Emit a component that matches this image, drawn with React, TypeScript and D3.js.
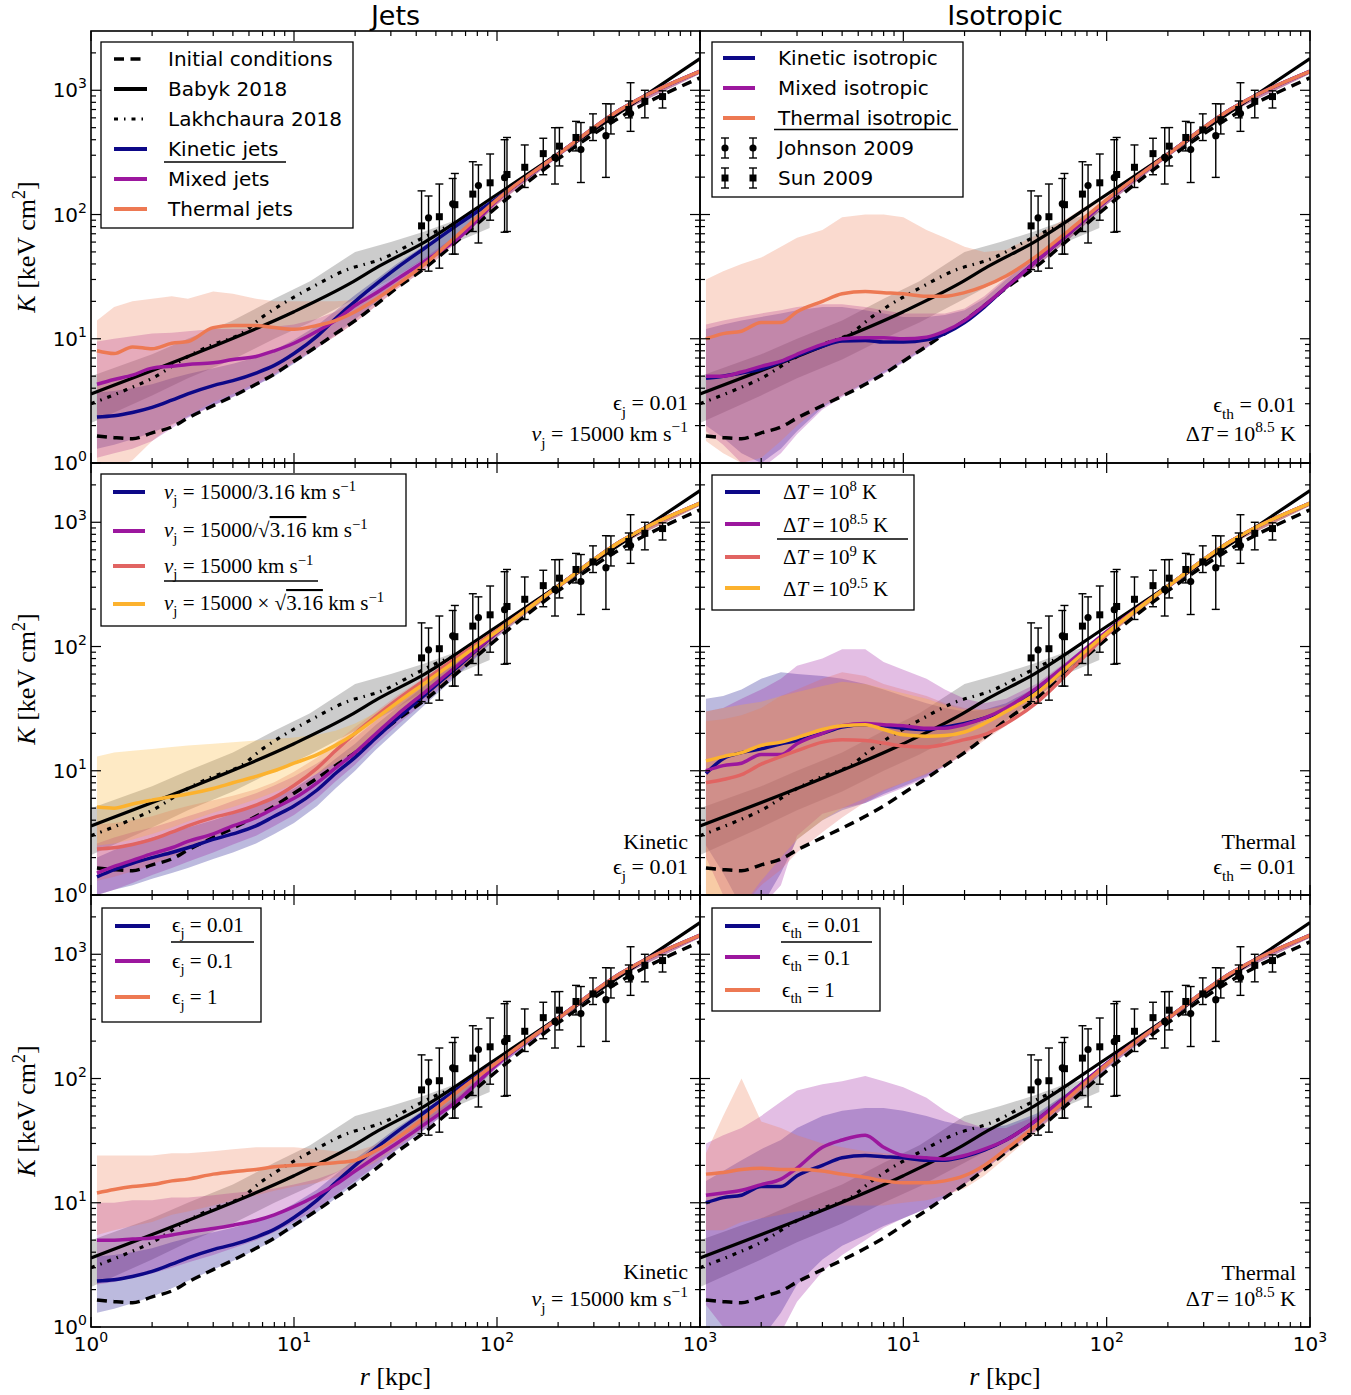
import React from "react";
import * as d3 from "d3";

const SERIF = "'Liberation Serif', 'DejaVu Serif', serif";
const SANS = "'DejaVu Sans', sans-serif";

const C_KIN = "#0d0887";
const C_MIX = "#9c179e";
const C_THM = "#ed7953";
const C_RED = "#e16462";
const C_YEL = "#fcb22e";

// radii (kpc) where the simulated profiles were read off
const R_IN = [1.07, 1.3, 1.6, 2, 2.5, 3, 4, 5, 6.5, 8, 10, 13, 16, 20, 25, 32, 45, 65, 100];
const R_TAIL = [200, 400, 1000];
const LINE_TAIL = [305, 690, 1420];
const LO_TAIL = [290, 660, 1360];
const HI_TAIL = [320, 720, 1480];

// observations / reference profiles
const IC_R = [1.07, 1.3, 1.6, 2, 2.5, 3, 4, 5, 6.5, 8, 10, 13, 16, 20, 25, 32, 45, 65, 100, 200, 400, 1000];
const IC_K = [1.65, 1.6, 1.57, 1.75, 1.95, 2.3, 2.9, 3.45, 4.3, 5.2, 6.6, 8.7, 11, 14, 18.5, 25.5, 38, 63, 115, 280, 600, 1260];
const BABYK_R = [1, 3, 10, 19, 26, 44, 100, 300, 1000];
const BABYK_K = [3.6, 7.2, 16.5, 28, 38, 60, 145, 480, 1800];
const LAK_R = [1, 1.5, 2, 3, 4, 5.5, 7, 8.5, 12, 17.5, 28, 40, 50, 65];
const LAK_K = [3.0, 3.9, 4.8, 7.2, 9.0, 11, 15, 18.5, 25.5, 35, 45, 61, 73, 86];
const GREY_R = [1, 2, 3, 5, 8, 12, 20, 30, 44, 60, 92];
const GREY_LO = [2.1, 3.5, 4.8, 6.8, 10, 13.5, 21, 30, 44, 58, 78];
const GREY_HI = [5.0, 7.5, 10, 14, 21, 29, 50, 60, 73, 88, 106];

const SUN_R = [42.5, 52, 62, 76, 92.5, 112, 137, 169, 203, 245, 297, 364, 446, 535, 654];
const SUN_K = [81, 96, 120, 146, 180, 210, 240, 309, 355, 417, 480, 580, 700, 815, 890];
const SUN_LO = [36, 37, 48, 73, 90, 73, 165, 209, 246, 325, 394, 445, 600, 600, 720];
const SUN_HI = [155, 176, 214, 266, 307, 417, 363, 411, 501, 562, 646, 777, 820, 1000, 990];
const JOH_R = [46, 60.5, 81, 109, 193, 259, 344, 455];
const JOH_K = [94, 122, 171, 198, 288, 333, 431, 650];
const JOH_LO = [35, 48, 59, 72, 176, 181, 199, 467];
const JOH_HI = [141, 195, 251, 400, 500, 550, 780, 1150];

// jets (kinetic eps=0.01, v=15000 is shared by three panels)
const KIN_JET = [2.35, 2.4, 2.55, 2.8, 3.2, 3.6, 4.2, 4.6, 5.3, 6.1, 7.6, 10.5, 14.5, 20, 27, 37, 55, 84, 135];
const KIN_JET_LO = [1.3, 1.4, 1.55, 1.75, 2.05, 2.35, 2.9, 3.4, 4.2, 5.0, 6.3, 8.4, 10.8, 14.3, 19.3, 26.5, 40, 64, 122];
const KIN_JET_HI = [3.7, 3.8, 4.0, 4.3, 4.8, 5.2, 5.8, 6.3, 7.1, 8.1, 9.8, 12.8, 16.8, 22.5, 29.5, 40, 58, 88, 140];
const MIX_JET = [4.3, 4.7, 5.1, 5.8, 6.0, 6.2, 6.4, 6.8, 7.2, 8.0, 9.2, 11.5, 14, 18.5, 23, 30, 43, 65, 130];
const MIX_JET_LO = [1.1, 1.2, 1.3, 1.5, 1.9, 2.3, 2.9, 3.4, 4.2, 5.1, 6.4, 8.5, 10.5, 13.5, 18, 25, 37, 62, 120];
const MIX_JET_HI = [9.5, 10, 10.5, 11, 11.2, 11.5, 12, 12, 12, 12.5, 13, 14.5, 16.5, 20, 25, 32, 46, 70, 138];
const THM_JET = [8.0, 7.6, 8.6, 8.3, 9.2, 9.5, 12.3, 12.8, 12.8, 12.3, 11.9, 12.8, 14, 16.5, 20.5, 27, 41, 70, 132];
const THM_JET_LO = [0.9, 0.9, 1.05, 1.5, 2.0, 2.4, 3.1, 3.6, 4.4, 5.2, 6.5, 8.5, 10.5, 13.5, 18, 25, 37, 62, 120];
const THM_JET_HI = [14, 18, 20, 21, 22, 21, 24, 23, 21, 20, 20, 20, 20, 20.5, 23, 29, 43, 73, 140];

// isotropic (thermal eps=0.01, dT=10^8.5 is shared by three panels)
const KIN_ISO = [4.8, 5.0, 5.3, 5.7, 6.5, 7.3, 8.7, 9.6, 9.7, 9.4, 9.4, 9.8, 11, 13.5, 18, 26, 42, 70, 130];
const KIN_ISO_LO = [2.0, 1.6, 1.2, 1.0, 1.3, 1.8, 2.8, 3.5, 4.4, 5.3, 6.5, 8.5, 10.8, 13.8, 18, 25, 38, 63, 120];
const KIN_ISO_HI = [12, 13, 14, 15, 16, 17, 18, 18, 17, 16, 15, 15, 15.5, 17, 21, 30, 46, 74, 135];
const MIX_ISO = [5.0, 5.0, 5.4, 6.0, 6.6, 7.5, 9.0, 10.0, 10.2, 10.2, 10.0, 10.3, 11.5, 14, 18.5, 26, 42, 70, 130];
const MIX_ISO_LO = [1.8, 1.4, 1.0, 0.9, 1.2, 1.7, 2.7, 3.4, 4.3, 5.2, 6.4, 8.4, 10.7, 13.7, 18, 25, 38, 63, 120];
const MIX_ISO_HI = [13, 14, 15, 16, 17, 18, 19, 19, 18, 17, 16, 16, 16, 17.5, 22, 31, 47, 75, 136];
const THM_ISO = [10, 11, 11.5, 13.5, 13.5, 16.5, 20, 23, 24, 23.5, 23, 22, 22, 23.5, 26.5, 32, 46, 74, 132];
const THM_ISO_LO = [1.5, 1.2, 1.0, 1.1, 1.5, 2.0, 2.9, 3.5, 4.5, 5.5, 6.7, 8.7, 11, 14, 18.5, 25, 38, 63, 120];
const THM_ISO_HI = [30, 35, 40, 45, 55, 65, 75, 95, 100, 100, 95, 75, 65, 55, 50, 52, 68, 95, 150];

// jet velocity runs
const V_316 = [1.4, 1.6, 1.8, 2.0, 2.2, 2.4, 2.8, 3.1, 3.6, 4.3, 5.2, 7.0, 9.5, 12.8, 18, 26, 42, 70, 130];
const V_316_LO = [1.0, 1.1, 1.2, 1.35, 1.5, 1.65, 1.95, 2.2, 2.6, 3.1, 3.8, 5.2, 7.2, 10, 14.5, 21, 35, 60, 118];
const V_316_HI = [2.0, 2.3, 2.6, 2.9, 3.2, 3.5, 4.0, 4.5, 5.2, 6.0, 7.2, 9.5, 12.5, 16.5, 23, 32, 50, 80, 138];
const V_SQ = [1.5, 1.7, 1.9, 2.15, 2.4, 2.7, 3.1, 3.6, 4.2, 5.0, 6.0, 8.0, 10.5, 14, 19.5, 28, 44, 72, 130];
const V_SQ_LO = [1.0, 1.1, 1.25, 1.45, 1.65, 1.85, 2.2, 2.55, 3.0, 3.6, 4.4, 6.0, 8.2, 11.2, 16, 23, 37, 62, 120];
const V_SQ_HI = [2.6, 2.9, 3.2, 3.5, 3.9, 4.3, 5.0, 5.7, 6.6, 7.6, 9.0, 11.5, 14.5, 18.5, 25, 34, 52, 82, 140];
const V_X = [5.1, 5.0, 5.4, 5.8, 6.2, 6.5, 7.2, 8.0, 9.0, 10, 11.5, 13.5, 16, 20, 26, 35, 52, 80, 132];
const V_X_LO = [2.5, 2.6, 2.8, 3.1, 3.5, 3.9, 4.6, 5.1, 5.9, 6.7, 7.8, 9.5, 11.5, 14.5, 19, 26, 40, 65, 122];
const V_X_HI = [13, 14, 14.5, 15, 15.5, 16, 16.5, 17, 17.5, 18, 18.5, 19.5, 21, 24, 29, 38, 56, 85, 140];

// heating temperature runs
const DT8 = [9.5, 12.5, 14, 15, 16.5, 17.5, 20, 22.5, 23.5, 23, 22, 21.5, 22.5, 24, 26.5, 31, 43, 70, 130];
const DT8_LO = [2.5, 1.5, 0.8, 0.8, 1.5, 2.8, 4.0, 4.8, 5.5, 6.5, 7.5, 9.0, 11, 14, 18.5, 25, 38, 63, 120];
const DT8_HI = [38, 40, 45, 55, 62, 60, 58, 55, 50, 45, 40, 35, 32, 30, 31, 35, 47, 75, 135];
const DT85_LO = [2.0, 1.0, 0.8, 0.8, 1.2, 3.0, 4.5, 5.0, 5.5, 6.3, 7.3, 8.8, 10.8, 13.8, 18.2, 25, 38, 63, 120];
const DT85_HI = [30, 32, 38, 45, 55, 70, 80, 95, 95, 75, 65, 55, 45, 38, 35, 38, 50, 78, 138];
const DT9 = [8.0, 8.5, 9.3, 11.3, 13, 14.5, 17, 17.8, 17.5, 16.7, 15.8, 15.5, 16.3, 17.8, 19.5, 24, 35, 62, 125];
const DT9_LO = [0.7, 0.7, 0.8, 1.2, 1.6, 2.2, 3.2, 4.2, 5.6, 6.8, 8, 9.3, 11, 13.5, 17.5, 23, 35, 60, 118];
const DT9_HI = [25, 26, 28, 32, 40, 45, 55, 62, 58, 50, 45, 40, 35, 32, 31, 34, 45, 72, 132];
const DT95 = [12, 13, 14, 16, 17, 18.5, 21.5, 23, 23.5, 21.5, 19.5, 19, 19.2, 20.5, 24, 30, 42, 70, 128];
const DT95_LO = [0.7, 0.7, 0.8, 1.3, 2.0, 2.8, 4.0, 5.0, 6.0, 7.0, 8.0, 9.5, 11, 14, 18, 24, 37, 62, 120];
const DT95_HI = [30, 32, 34, 36, 40, 43, 48, 52, 50, 46, 42, 38, 34, 31, 31, 33, 44, 72, 132];

// jet efficiency runs
const EJ01 = [5.0, 5.0, 5.1, 5.2, 5.5, 5.8, 6.2, 6.6, 7.2, 8.0, 9.3, 11.5, 14, 18, 23, 30, 44, 68, 130];
const EJ01_LO = [2.2, 2.3, 2.5, 2.7, 3.0, 3.3, 3.8, 4.3, 5.0, 5.8, 7.0, 9.0, 11.5, 15, 19.5, 27, 40, 64, 122];
const EJ01_HI = [10, 10, 10.5, 10.5, 11, 11, 11.5, 12, 12.5, 13, 14, 15.5, 17.5, 21, 26, 33, 48, 73, 136];
const EJ1 = [12, 12.8, 13.5, 14, 15, 15.5, 17, 17.8, 18.5, 19.5, 20, 20.5, 21, 22, 26, 33, 50, 80, 135];
const EJ1_LO = [5.5, 6, 6.5, 7, 8, 8.5, 9.5, 10.5, 11.5, 12.5, 13.5, 14.5, 16, 17.5, 21, 28, 42, 70, 128];
const EJ1_HI = [24, 24, 24, 24, 25, 25, 26, 27, 28, 28, 28, 27, 26, 26, 29, 36, 54, 84, 140];

// thermal efficiency runs
const ETH001_LO = [0.7, 0.7, 0.7, 0.8, 1.3, 2.2, 3.5, 4.5, 5.5, 6.5, 7.5, 9, 11, 14, 18.5, 25, 38, 63, 120];
const ETH001_HI = [15, 18, 22, 27, 32, 40, 50, 55, 58, 58, 55, 50, 45, 42, 40, 42, 52, 78, 136];
const ETH01 = [11.5, 12, 12.6, 14, 15.5, 19, 28, 32, 35, 28, 24, 23, 22.5, 24, 27, 32, 46, 74, 132];
const ETH01_LO = [1.5, 1.0, 0.8, 0.8, 0.9, 1.6, 2.8, 3.8, 5.0, 6.3, 7.5, 9, 11, 14, 18.5, 25, 38, 63, 120];
const ETH01_HI = [30, 35, 40, 50, 65, 80, 90, 95, 105, 95, 85, 70, 55, 45, 40, 40, 50, 78, 138];
const ETH1 = [17, 17.5, 18.5, 19, 18.5, 18.5, 18, 17, 16, 15, 14.5, 14.5, 15, 16.5, 20, 27, 42, 70, 130];
const ETH1_LO = [6, 6, 7, 7.5, 8, 8.5, 9, 9.5, 9.5, 9.5, 10, 10.5, 11.5, 13, 16.5, 23, 37, 63, 122];
const ETH1_HI = [25, 50, 100, 45, 40, 35, 30, 28, 26, 25, 24, 23, 23, 24, 27, 33, 48, 75, 135];

const R_ALL = R_IN.concat(R_TAIL);

type Run = { color: string; k: number[]; lo: number[]; hi: number[] };
const run = (color: string, k: number[], lo: number[], hi: number[]): Run => ({
  color,
  k: k.concat(LINE_TAIL),
  lo: lo.concat(LO_TAIL),
  hi: hi.concat(HI_TAIL),
});

const PANELS: { col: number; row: number; runs: Run[] }[] = [
  { col: 0, row: 0, runs: [run(C_KIN, KIN_JET, KIN_JET_LO, KIN_JET_HI), run(C_MIX, MIX_JET, MIX_JET_LO, MIX_JET_HI), run(C_THM, THM_JET, THM_JET_LO, THM_JET_HI)] },
  { col: 1, row: 0, runs: [run(C_KIN, KIN_ISO, KIN_ISO_LO, KIN_ISO_HI), run(C_MIX, MIX_ISO, MIX_ISO_LO, MIX_ISO_HI), run(C_THM, THM_ISO, THM_ISO_LO, THM_ISO_HI)] },
  { col: 0, row: 1, runs: [run(C_KIN, V_316, V_316_LO, V_316_HI), run(C_MIX, V_SQ, V_SQ_LO, V_SQ_HI), run(C_RED, KIN_JET, KIN_JET_LO, KIN_JET_HI), run(C_YEL, V_X, V_X_LO, V_X_HI)] },
  { col: 1, row: 1, runs: [run(C_KIN, DT8, DT8_LO, DT8_HI), run(C_MIX, THM_ISO, DT85_LO, DT85_HI), run(C_RED, DT9, DT9_LO, DT9_HI), run(C_YEL, DT95, DT95_LO, DT95_HI)] },
  { col: 0, row: 2, runs: [run(C_KIN, KIN_JET, KIN_JET_LO, KIN_JET_HI), run(C_MIX, EJ01, EJ01_LO, EJ01_HI), run(C_THM, EJ1, EJ1_LO, EJ1_HI)] },
  { col: 1, row: 2, runs: [run(C_KIN, THM_ISO, ETH001_LO, ETH001_HI), run(C_MIX, ETH01, ETH01_LO, ETH01_HI), run(C_THM, ETH1, ETH1_LO, ETH1_HI)] },
];

const PX = [91, 700];
const PW = [609, 610];
const PY = [31, 463, 895];
const PH = 432;

const MAJ = [1, 10, 100, 1000];
const X_MINOR = d3.range(0, 3).flatMap((e) => d3.range(2, 10).map((m) => m * 10 ** e));
const Y_MINOR = d3.range(0, 4).flatMap((e) => d3.range(2, 10).map((m) => m * 10 ** e)).filter((v) => v < 3000);

// tiny mathtext: [text, flags] flags: i italic, b subscript, p superscript, o overline
type Part = [string, string?];
function MathT({ parts, fs, x, y, anchor = "start", transform }: { parts: Part[]; fs: number; x: number; y: number; anchor?: string; transform?: string }) {
  let cur = 0;
  return (
    <text x={x} y={y} fontFamily={SERIF} fontSize={fs} textAnchor={anchor} transform={transform} fill="#000">
      {parts.map(([t, f = ""], i) => {
        const target = f.includes("b") ? fs * 0.3 : f.includes("p") ? -fs * 0.4 : 0;
        const dy = target - cur;
        cur = target;
        return (
          <tspan key={i} dy={dy} fontStyle={f.includes("i") ? "italic" : undefined} fontSize={target !== 0 ? fs * 0.7 : undefined} textDecoration={f.includes("o") ? "overline" : undefined}>
            {t}
          </tspan>
        );
      })}
    </text>
  );
}

function Panel({ col, row, runs }: { col: number; row: number; runs: Run[] }) {
  const x0 = PX[col], x1 = PX[col] + PW[col];
  const y0 = PY[row], y1 = PY[row] + PH;
  const x = d3.scaleLog().domain([1, 1000]).range([x0, x1]);
  const y = d3.scaleLog().domain([1, 3000]).range([y1, y0]);
  const id = `clip-${col}-${row}`;

  const line = (rs: number[], ks: number[]) =>
    d3.line<number>().x((_, i) => x(rs[i])).y((k) => y(k)).curve(d3.curveMonotoneX)(ks) ?? "";
  const band = (rs: number[], lo: number[], hi: number[]) =>
    d3.area<number>().x((_, i) => x(rs[i])).y0((_, i) => y(lo[i])).y1((k) => y(k))(hi) ?? "";

  return (
    <g>
      <clipPath id={id}>
        <rect x={x0} y={y0} width={x1 - x0} height={PH} />
      </clipPath>
      <g clipPath={`url(#${id})`}>
        <path d={band(GREY_R, GREY_LO, GREY_HI)} fill="#808080" fillOpacity={0.4} />
        {runs.map((r, i) => (
          <path key={i} d={band(R_ALL, r.lo, r.hi)} fill={r.color} fillOpacity={0.28} />
        ))}
        <path d={line(IC_R, IC_K)} fill="none" stroke="#000" strokeWidth={3.5} strokeDasharray="10,6.5" />
        <path d={line(BABYK_R, BABYK_K)} fill="none" stroke="#000" strokeWidth={3.2} />
        <path d={line(LAK_R, LAK_K)} fill="none" stroke="#000" strokeWidth={3.2} strokeDasharray="4,6,1.5,6" />
        {runs.map((r, i) => (
          <path key={i} d={line(R_ALL, r.k)} fill="none" stroke={r.color} strokeWidth={3.5} strokeLinejoin="round" />
        ))}
        {SUN_R.map((r, i) => (
          <g key={"s" + i} stroke="#000" strokeWidth={1.4}>
            <line x1={x(r)} x2={x(r)} y1={y(SUN_LO[i])} y2={y(SUN_HI[i])} />
            <line x1={x(r) - 4} x2={x(r) + 4} y1={y(SUN_LO[i])} y2={y(SUN_LO[i])} />
            <line x1={x(r) - 4} x2={x(r) + 4} y1={y(SUN_HI[i])} y2={y(SUN_HI[i])} />
            <rect x={x(r) - 3.5} y={y(SUN_K[i]) - 3.5} width={7} height={7} fill="#000" stroke="none" />
          </g>
        ))}
        {JOH_R.map((r, i) => (
          <g key={"j" + i} stroke="#000" strokeWidth={1.4}>
            <line x1={x(r)} x2={x(r)} y1={y(JOH_LO[i])} y2={y(JOH_HI[i])} />
            <line x1={x(r) - 4} x2={x(r) + 4} y1={y(JOH_LO[i])} y2={y(JOH_LO[i])} />
            <line x1={x(r) - 4} x2={x(r) + 4} y1={y(JOH_HI[i])} y2={y(JOH_HI[i])} />
            <circle cx={x(r)} cy={y(JOH_K[i])} r={3.6} fill="#000" stroke="none" />
          </g>
        ))}
      </g>
      <g stroke="#000" strokeWidth={1.2}>
        {MAJ.map((v) => (
          <g key={"xm" + v}>
            <line x1={x(v)} x2={x(v)} y1={y1} y2={y1 - 10} />
            <line x1={x(v)} x2={x(v)} y1={y0} y2={y0 + 10} />
            <line x1={x0} x2={x0 + 10} y1={y(v)} y2={y(v)} />
            <line x1={x1} x2={x1 - 10} y1={y(v)} y2={y(v)} />
          </g>
        ))}
        {X_MINOR.map((v) => (
          <g key={"xn" + v}>
            <line x1={x(v)} x2={x(v)} y1={y1} y2={y1 - 5} />
            <line x1={x(v)} x2={x(v)} y1={y0} y2={y0 + 5} />
          </g>
        ))}
        {Y_MINOR.map((v) => (
          <g key={"yn" + v}>
            <line x1={x0} x2={x0 + 5} y1={y(v)} y2={y(v)} />
            <line x1={x1} x2={x1 - 5} y1={y(v)} y2={y(v)} />
          </g>
        ))}
      </g>
      <rect x={x0} y={y0} width={x1 - x0} height={PH} fill="none" stroke="#000" strokeWidth={1.6} />
      {col === 0 &&
        MAJ.map((v, i) => (
          <text key={"yl" + v} x={x0 - 4} y={y(v) + 7} fontFamily={SANS} fontSize={20} textAnchor="end">
            10<tspan dy={-9} fontSize={14}>{i}</tspan>
          </text>
        ))}
      {row === 2 &&
        MAJ.filter((v) => !(col === 1 && v === 1)).map((v) => (
          <text key={"xl" + v} x={x(v)} y={y1 + 24} fontFamily={SANS} fontSize={20} textAnchor="middle">
            10<tspan dy={-9} fontSize={14}>{Math.round(Math.log10(v))}</tspan>
          </text>
        ))}
    </g>
  );
}

const Handle = ({ x1, x2, y, color, dash }: { x1: number; x2: number; y: number; color: string; dash?: string }) => (
  <line x1={x1} x2={x2} y1={y} y2={y} stroke={color} strokeWidth={dash ? 3.5 : 4} strokeDasharray={dash} />
);
const Box = ({ x, y, w, h }: { x: number; y: number; w: number; h: number }) => (
  <rect x={x} y={y} width={w} height={h} fill="#fff" stroke="#000" strokeWidth={1.3} />
);
const Under = ({ x1, x2, y }: { x1: number; x2: number; y: number }) => (
  <line x1={x1} x2={x2} y1={y} y2={y} stroke="#000" strokeWidth={1.4} />
);
const SansT = ({ x, y, t }: { x: number; y: number; t: string }) => (
  <text x={x} y={y} fontFamily={SANS} fontSize={20}>{t}</text>
);

function ErrMark({ x, y, sq }: { x: number; y: number; sq?: boolean }) {
  return (
    <g stroke="#000" strokeWidth={1.4}>
      <line x1={x} x2={x} y1={y - 10} y2={y + 10} />
      <line x1={x - 4} x2={x + 4} y1={y - 10} y2={y - 10} />
      <line x1={x - 4} x2={x + 4} y1={y + 10} y2={y + 10} />
      {sq ? <rect x={x - 3.5} y={y - 3.5} width={7} height={7} fill="#000" stroke="none" /> : <circle cx={x} cy={y} r={3.6} fill="#000" stroke="none" />}
    </g>
  );
}

const TOP_L_LABELS = ["Initial conditions", "Babyk 2018", "Lakhchaura 2018", "Kinetic jets", "Mixed jets", "Thermal jets"];
const TOP_R_LABELS = ["Kinetic isotropic", "Mixed isotropic", "Thermal isotropic", "Johnson 2009", "Sun 2009"];

function Legends() {
  const FS = 21;
  return (
    <g>
      {/* top left */}
      <Box x={101} y={42} w={252} h={186} />
      <Handle x1={114} x2={147} y={59} color="#000" dash="10,6.5" />
      <Handle x1={114} x2={147} y={89} color="#000" />
      <line x1={114} x2={147} y1={119} y2={119} stroke="#000" strokeWidth={3.2} strokeDasharray="4,6,1.5,6" />
      <Handle x1={114} x2={147} y={149} color={C_KIN} />
      <Handle x1={114} x2={147} y={179} color={C_MIX} />
      <Handle x1={114} x2={147} y={209} color={C_THM} />
      {TOP_L_LABELS.map((t, i) => <SansT key={t} x={168} y={66 + 30 * i} t={t} />)}
      <Under x1={164} x2={286} y={162} />

      {/* top right */}
      <Box x={712} y={42} w={251} h={155} />
      <Handle x1={723} x2={755} y={58} color={C_KIN} />
      <Handle x1={723} x2={755} y={88} color={C_MIX} />
      <Handle x1={723} x2={755} y={118} color={C_THM} />
      <ErrMark x={725} y={148} />
      <ErrMark x={753} y={148} />
      <ErrMark x={725} y={178} sq />
      <ErrMark x={753} y={178} sq />
      {TOP_R_LABELS.map((t, i) => <SansT key={t} x={778} y={65 + 30 * i} t={t} />)}
      <Under x1={774} x2={958} y={129.5} />

      {/* middle left */}
      <Box x={101} y={474} w={305} h={152} />
      <Handle x1={113} x2={145} y={492} color={C_KIN} />
      <Handle x1={113} x2={145} y={531} color={C_MIX} />
      <Handle x1={113} x2={145} y={566} color={C_RED} />
      <Handle x1={113} x2={145} y={604} color={C_YEL} />
      <MathT x={164} y={499} fs={FS} parts={[["v", "i"], ["j", "b"], [" = 15000/3.16 km s"], ["−1", "p"]]} />
      <MathT x={164} y={537} fs={FS} parts={[["v", "i"], ["j", "b"], [" = 15000/√"], ["3.16", "o"], [" km s"], ["−1", "p"]]} />
      <MathT x={164} y={573} fs={FS} parts={[["v", "i"], ["j", "b"], [" = 15000 km s"], ["−1", "p"]]} />
      <MathT x={164} y={610} fs={FS} parts={[["v", "i"], ["j", "b"], [" = 15000 × √"], ["3.16", "o"], [" km s"], ["−1", "p"]]} />
      <Under x1={164} x2={318} y={581} />

      {/* middle right */}
      <Box x={712} y={475} w={202} h={135} />
      <Handle x1={725} x2={760} y={492} color={C_KIN} />
      <Handle x1={725} x2={760} y={524} color={C_MIX} />
      <Handle x1={725} x2={760} y={557} color={C_RED} />
      <Handle x1={725} x2={760} y={588} color={C_YEL} />
      <MathT x={783} y={499} fs={FS} parts={[["Δ"], ["T", "i"], ["\u2009=\u200910"], ["8", "p"], [" K"]]} />
      <MathT x={783} y={532} fs={FS} parts={[["Δ"], ["T", "i"], ["\u2009=\u200910"], ["8.5", "p"], [" K"]]} />
      <MathT x={783} y={564} fs={FS} parts={[["Δ"], ["T", "i"], ["\u2009=\u200910"], ["9", "p"], [" K"]]} />
      <MathT x={783} y={596} fs={FS} parts={[["Δ"], ["T", "i"], ["\u2009=\u200910"], ["9.5", "p"], [" K"]]} />
      <Under x1={777} x2={908} y={539} />

      {/* bottom left */}
      <Box x={102} y={908} w={159} h={114} />
      <Handle x1={115} x2={150} y={926} color={C_KIN} />
      <Handle x1={115} x2={150} y={961} color={C_MIX} />
      <Handle x1={115} x2={150} y={997} color={C_THM} />
      <MathT x={172} y={932} fs={FS} parts={[["ϵ"], ["j", "b"], [" = 0.01"]]} />
      <MathT x={172} y={968} fs={FS} parts={[["ϵ"], ["j", "b"], [" = 0.1"]]} />
      <MathT x={172} y={1004} fs={FS} parts={[["ϵ"], ["j", "b"], [" = 1"]]} />
      <Under x1={171} x2={254} y={942} />

      {/* bottom right */}
      <Box x={712} y={908} w={168} h={103} />
      <Handle x1={725} x2={760} y={926} color={C_KIN} />
      <Handle x1={725} x2={760} y={957} color={C_MIX} />
      <Handle x1={725} x2={760} y={990} color={C_THM} />
      <MathT x={782} y={932} fs={FS} parts={[["ϵ"], ["th", "b"], [" = 0.01"]]} />
      <MathT x={782} y={965} fs={FS} parts={[["ϵ"], ["th", "b"], [" = 0.1"]]} />
      <MathT x={782} y={997} fs={FS} parts={[["ϵ"], ["th", "b"], [" = 1"]]} />
      <Under x1={781} x2={872} y={942} />
    </g>
  );
}

function Notes() {
  const FS = 22;
  const vj: Part[] = [["v", "i"], ["j", "b"], [" = 15000 km s"], ["−1", "p"]];
  const dT: Part[] = [["Δ"], ["T", "i"], ["\u2009=\u200910"], ["8.5", "p"], [" K"]];
  return (
    <g>
      <MathT x={688} y={410} fs={FS} anchor="end" parts={[["ϵ"], ["j", "b"], [" = 0.01"]]} />
      <MathT x={688} y={441} fs={FS} anchor="end" parts={vj} />
      <MathT x={1296} y={412} fs={FS} anchor="end" parts={[["ϵ"], ["th", "b"], [" = 0.01"]]} />
      <MathT x={1296} y={441} fs={FS} anchor="end" parts={dT} />
      <MathT x={688} y={849} fs={FS} anchor="end" parts={[["Kinetic"]]} />
      <MathT x={688} y={874} fs={FS} anchor="end" parts={[["ϵ"], ["j", "b"], [" = 0.01"]]} />
      <MathT x={1296} y={849} fs={FS} anchor="end" parts={[["Thermal"]]} />
      <MathT x={1296} y={874} fs={FS} anchor="end" parts={[["ϵ"], ["th", "b"], [" = 0.01"]]} />
      <MathT x={688} y={1279} fs={FS} anchor="end" parts={[["Kinetic"]]} />
      <MathT x={688} y={1306} fs={FS} anchor="end" parts={vj} />
      <MathT x={1296} y={1280} fs={FS} anchor="end" parts={[["Thermal"]]} />
      <MathT x={1296} y={1306} fs={FS} anchor="end" parts={dT} />
    </g>
  );
}

export default function App() {
  return (
    <div style={{ position: "absolute", left: 0, top: 0 }}>
      <svg width={1351} height={1395} style={{ display: "block" }}>
        <rect width={1351} height={1395} fill="#fff" />
        {PANELS.map((p, i) => (
          <Panel key={i} {...p} />
        ))}
        <text x={395.5} y={25} fontFamily={SANS} fontSize={27} textAnchor="middle">Jets</text>
        <text x={1005} y={25} fontFamily={SANS} fontSize={27} textAnchor="middle">Isotropic</text>
        {PY.map((py) => (
          <MathT key={py} x={35} y={py + PH / 2} fs={26} anchor="middle" transform={`rotate(-90, 35, ${py + PH / 2})`} parts={[["K", "i"], [" [keV cm"], ["2", "p"], ["]"]]} />
        ))}
        <MathT x={395.5} y={1385} fs={26} anchor="middle" parts={[["r", "i"], [" [kpc]"]]} />
        <MathT x={1005} y={1385} fs={26} anchor="middle" parts={[["r", "i"], [" [kpc]"]]} />
        <Legends />
        <Notes />
      </svg>
    </div>
  );
}
